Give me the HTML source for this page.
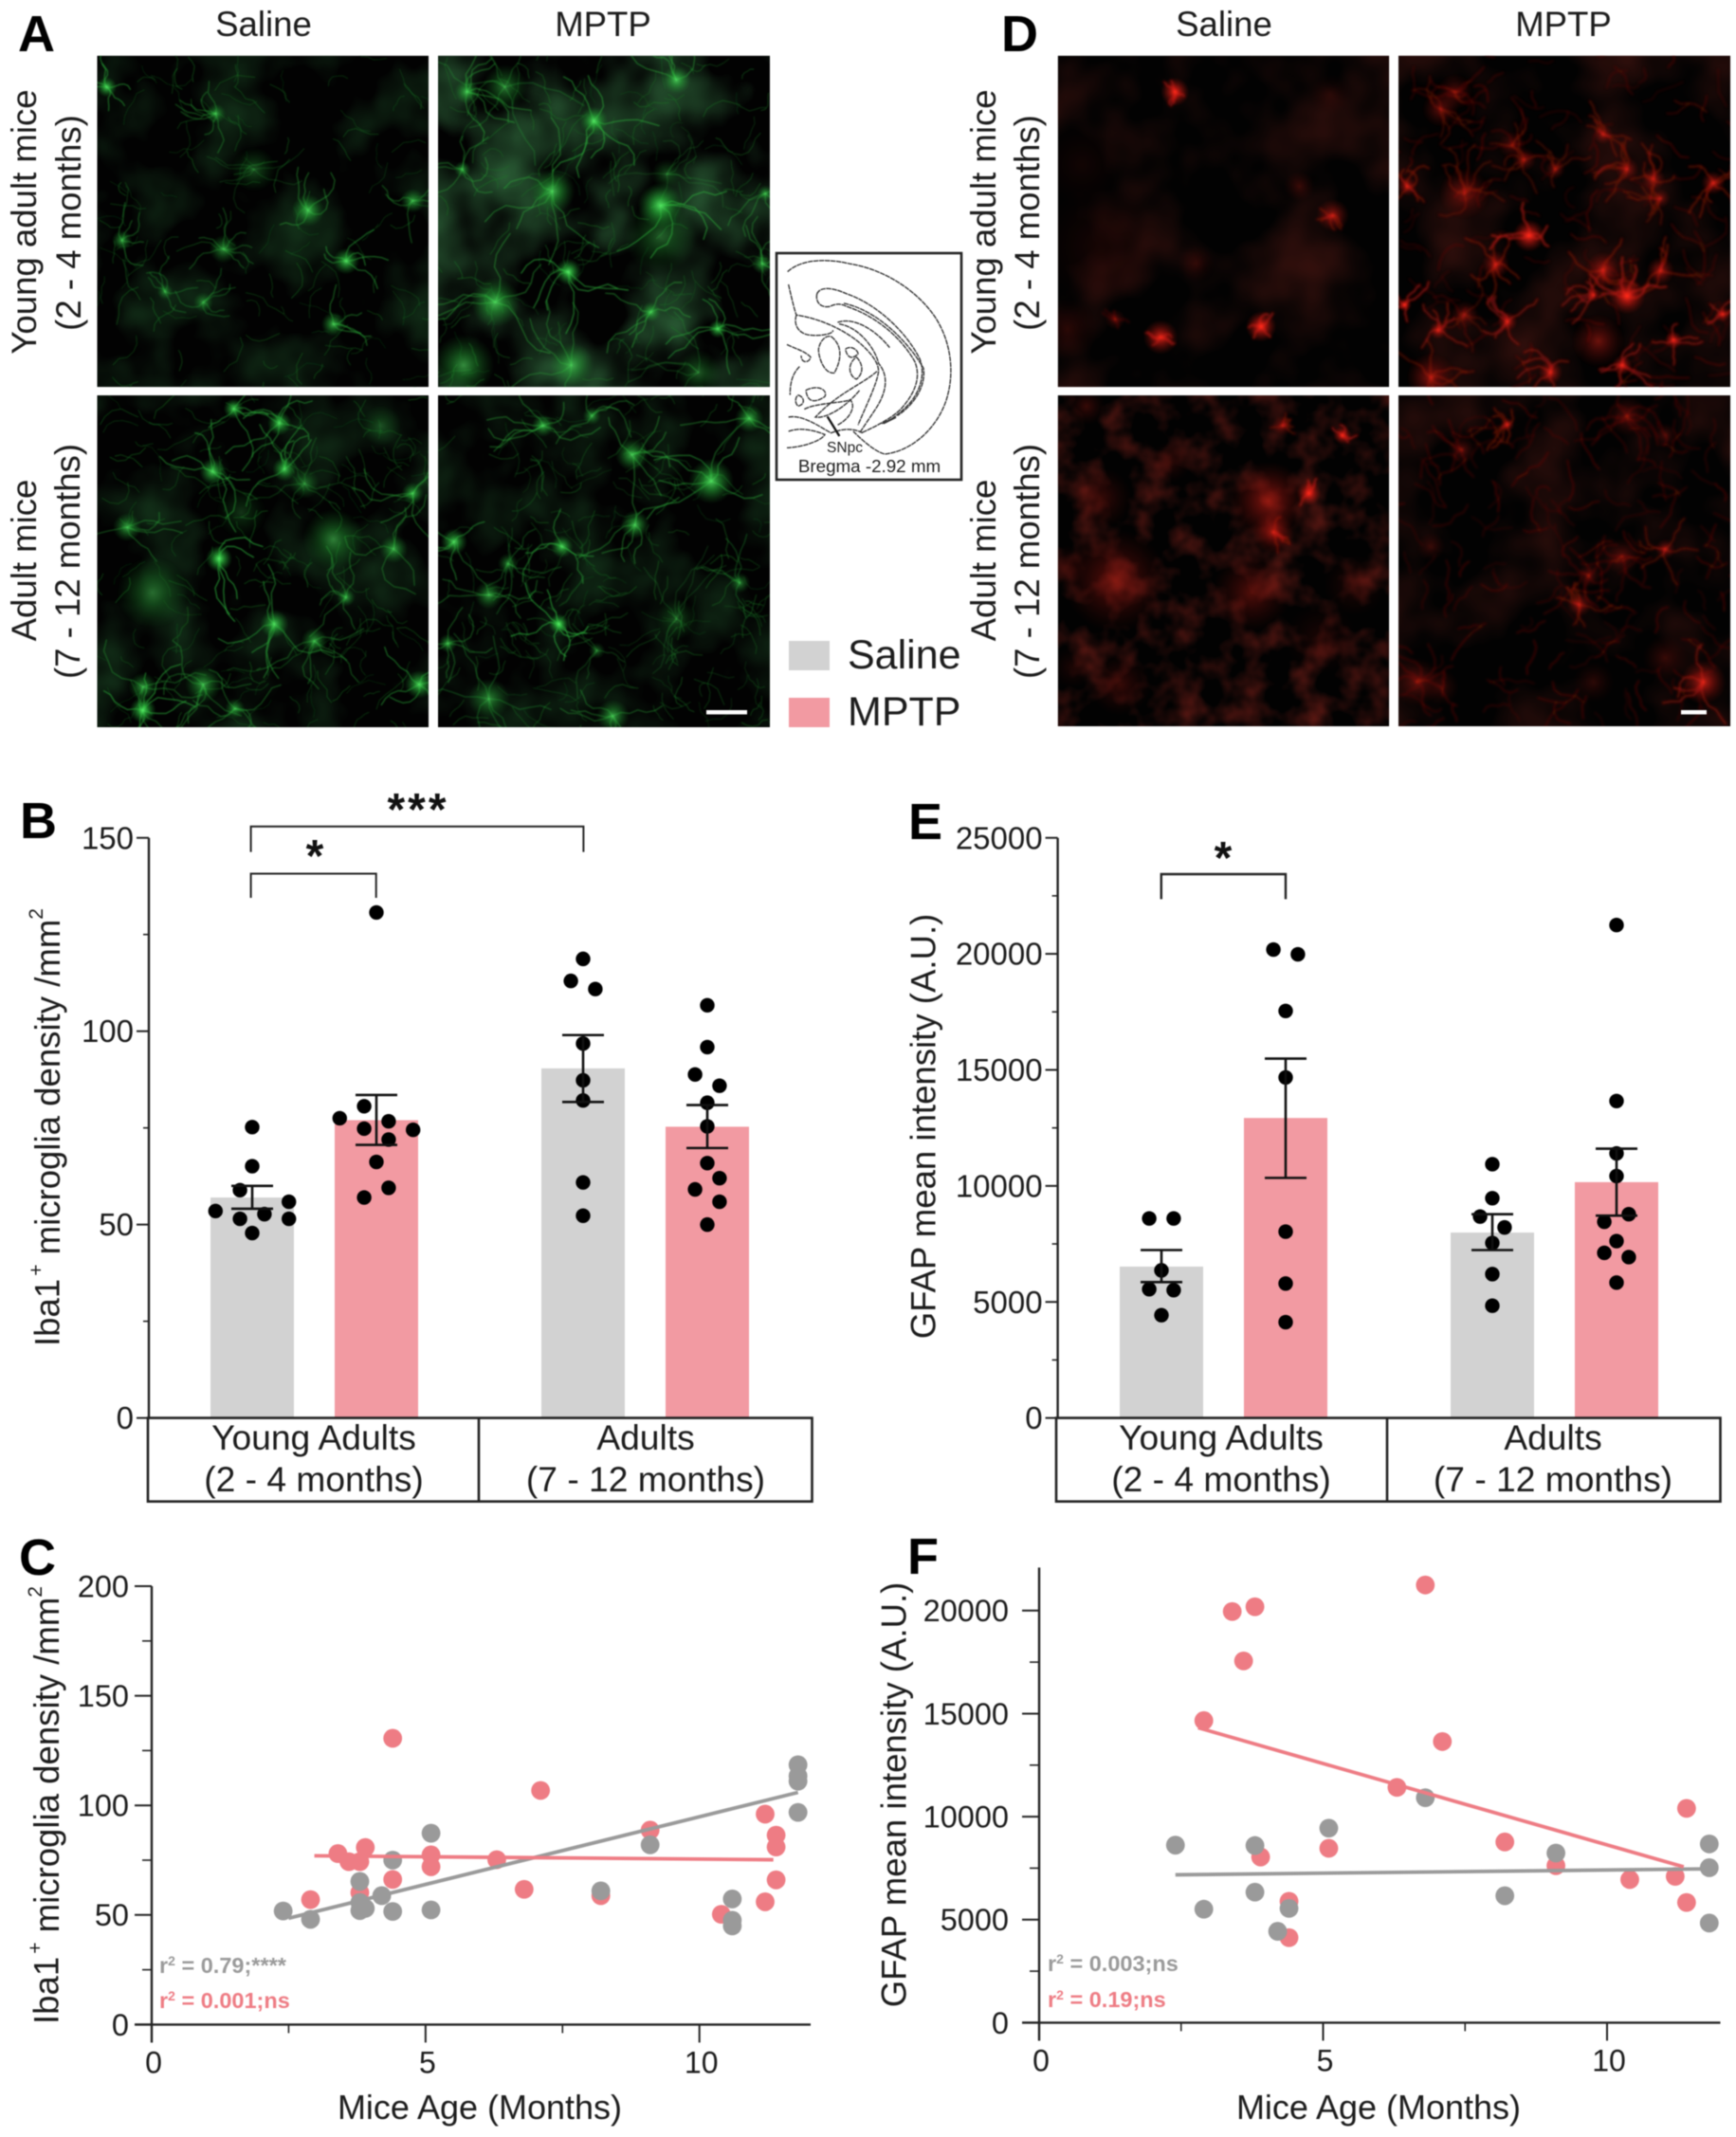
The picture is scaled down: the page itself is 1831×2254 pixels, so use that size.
<!DOCTYPE html>
<html lang="en">
<head>
<meta charset="utf-8">
<title>Microglia and astrocyte density by age and MPTP treatment</title>
<style>
html,body{margin:0;padding:0;background:#fff;}
#figure{display:block;width:1831px;height:2254px;filter:blur(0.6px);font-family:"Liberation Sans",sans-serif;fill:#1c1c1c;}
.t36{font-size:36.6px;}
.t37{font-size:37.2px;text-anchor:middle;}
.letter{font-size:54px;font-weight:bold;fill:#000;}
.star{font-size:48px;font-weight:bold;text-anchor:middle;fill:#111;}
.rval{font-size:23.5px;font-weight:bold;}
</style>
</head>
<body>
<svg id="figure" xmlns="http://www.w3.org/2000/svg" width="1831" height="2254" viewBox="0 0 1831 2254">
  <defs>
    <radialGradient id="glowGreen"><stop offset="0" stop-color="#58f068" stop-opacity="1"/><stop offset=".35" stop-color="#2fc040" stop-opacity=".7"/><stop offset="1" stop-color="#1a8028" stop-opacity="0"/></radialGradient>
    <radialGradient id="glowRed"><stop offset="0" stop-color="#ff2a1a" stop-opacity="1"/><stop offset=".35" stop-color="#d81c14" stop-opacity=".65"/><stop offset="1" stop-color="#8a1008" stop-opacity="0"/></radialGradient>
    <filter id="softEdge" x="-10%" y="-10%" width="120%" height="120%"><feGaussianBlur stdDeviation="0.6"/></filter>
    <filter id="softEdgeRed" x="-10%" y="-10%" width="120%" height="120%"><feGaussianBlur stdDeviation="1.3"/></filter>
    <filter id="hazeGreenLow" x="0" y="0" width="100%" height="100%"><feTurbulence type="fractalNoise" baseFrequency="0.014" numOctaves="3" seed="4"/><feColorMatrix values="0 0 0 0 0.02  0 0 0 0 0.14  0 0 0 0 0.035  1.0 0 0 0 -0.45"/></filter>
    <filter id="hazeGreenHigh" x="0" y="0" width="100%" height="100%"><feTurbulence type="fractalNoise" baseFrequency="0.012" numOctaves="3" seed="9"/><feColorMatrix values="0 0 0 0 0.05  0 0 0 0 0.26  0 0 0 0 0.08  1.4 0 0 0 -0.55"/></filter>
    <filter id="hazeRedLow" x="0" y="0" width="100%" height="100%"><feTurbulence type="fractalNoise" baseFrequency="0.012" numOctaves="3" seed="2"/><feColorMatrix values="0 0 0 0 0.16  0 0 0 0 0.015  0 0 0 0 0.01  0.9 0 0 0 -0.38"/></filter>
    <filter id="hazeRedHigh" x="0" y="0" width="100%" height="100%"><feTurbulence type="fractalNoise" baseFrequency="0.03" numOctaves="3" seed="7"/><feColorMatrix values="0 0 0 0 0.22  0 0 0 0 0.015  0 0 0 0 0.01  1.4 0 0 0 -0.6"/></filter>
  </defs>

  <!-- Micrograph layers are appended here -->
  <g id="micrographs"></g>

  <!-- Panel letters -->
  <text class="letter" x="19" y="54">A</text>
  <text class="letter" x="1056" y="54">D</text>
  <text class="letter" x="21" y="884">B</text>
  <text class="letter" x="958" y="885">E</text>
  <text class="letter" x="20" y="1661">C</text>
  <text class="letter" x="957" y="1660">F</text>

  <!-- Column and row titles -->
  <text class="t36" x="278" y="38" text-anchor="middle">Saline</text>
  <text class="t36" x="636" y="38" text-anchor="middle">MPTP</text>
  <text class="t36" x="1291" y="38" text-anchor="middle">Saline</text>
  <text class="t36" x="1649" y="38" text-anchor="middle">MPTP</text>
  <g class="t36" text-anchor="middle">
    <text transform="translate(38,234) rotate(-90)">Young adult mice</text>
    <text transform="translate(85,235) rotate(-90)">(2 - 4 months)</text>
    <text transform="translate(38,591) rotate(-90)">Adult mice</text>
    <text transform="translate(84,592) rotate(-90)">(7 - 12 months)</text>
    <text transform="translate(1050,234) rotate(-90)">Young adult mice</text>
    <text transform="translate(1096,235) rotate(-90)">(2 - 4 months)</text>
    <text transform="translate(1050,591) rotate(-90)">Adult mice</text>
    <text transform="translate(1096,592) rotate(-90)">(7 - 12 months)</text>
  </g>

  <!-- Brain atlas inset -->
  <g>
    <rect x="819" y="267" width="195" height="239" fill="#fff" stroke="#222" stroke-width="2.6"/>
    <g transform="translate(810,255) scale(0.3333)" fill="none" stroke="#333" stroke-width="4.2" stroke-dasharray="16 2">
      <path d="M62,95 C110,50 200,55 260,70 C360,85 470,150 530,240 C575,310 590,400 570,480 C550,570 470,660 370,672 C340,665 300,630 270,600"/>
      <path d="M65,135 C75,180 85,220 90,232 C150,240 230,270 290,320 C330,355 350,385 350,410 C345,450 310,520 285,580"/>
      <path d="M90,232 C80,260 95,290 130,295 C170,300 210,290 205,280"/>
      <path d="M155,165 C165,140 205,145 250,165 C350,200 440,290 480,370 C500,420 480,480 440,520 C410,550 380,570 360,575"/>
      <path d="M155,165 C150,190 165,210 195,205 C215,195 230,195 250,205 C340,235 420,300 465,380 C485,430 465,480 420,530 C390,560 330,590 295,605"/>
      <path d="M240,195 C340,215 440,310 492,400 C500,450 470,510 410,550"/>
      <path d="M220,255 C280,235 350,290 385,335"/>
      <path d="M225,260 C290,270 340,340 350,385 C380,420 380,470 340,530 C320,560 300,590 290,605"/>
      <path d="M200,300 C240,330 230,380 210,415 C180,420 160,370 160,340 C165,310 185,295 200,300"/>
      <path d="M245,340 C265,325 285,345 285,355 C265,375 250,365 245,340"/>
      <path d="M280,365 C300,385 305,415 280,435 C255,425 250,385 280,365"/>
      <path d="M345,410 C300,450 220,480 150,555 C180,560 240,530 290,470"/>
      <path d="M60,325 C90,340 115,345 135,365 C130,385 105,385 105,360"/>
      <path d="M100,395 C75,420 70,450 70,485"/>
      <path d="M120,470 C160,450 190,470 180,490 C150,510 125,510 120,470"/>
      <path d="M95,485 C115,490 120,515 95,520 C85,510 85,495 95,485"/>
      <path d="M115,530 C150,510 240,510 260,500 C280,520 260,560 220,580"/>
      <path d="M65,555 C110,545 170,590 200,605 C240,590 270,590 300,605"/>
      <path d="M65,600 C90,590 130,590 180,610 C170,630 110,650 60,652"/>
      <path d="M365,575 L405,555" stroke-width="6" stroke-dasharray="none"/>
    </g>
    <path d="M188,553 L226,615" transform="translate(810,255) scale(0.3333)" stroke="#111" stroke-width="7" fill="none"/>
    <text x="891" y="477" font-size="15.5" text-anchor="middle">SNpc</text>
    <text x="917" y="498" font-size="18.8" text-anchor="middle">Bregma -2.92 mm</text>
  </g>

  <!-- Legend -->
  <g>
    <rect x="832" y="676" width="43" height="31" fill="#d2d2d2"/>
    <text x="894" y="705" font-size="43">Saline</text>
    <rect x="832" y="736" width="43" height="31" fill="#f29aa2"/>
    <text x="894" y="765" font-size="43">MPTP</text>
  </g>

  <!-- Chart layers -->
  <g id="chartB"></g>
  <g id="chartE"></g>
  <g id="chartC"></g>
  <g id="chartF"></g>

  <!-- Static chart text -->
  <text class="t36" transform="translate(50,1189) rotate(-90)" text-anchor="middle" dominant-baseline="central">Iba1<tspan font-size="21" dx="3" dy="-12">+</tspan><tspan dy="12"> microglia density /mm</tspan><tspan font-size="21" dy="-12">2</tspan></text>
  <text class="t36" transform="translate(974,1188) rotate(-90)" text-anchor="middle" dominant-baseline="central">GFAP mean intensity (A.U.)</text>
  <text class="t36" transform="translate(49,1904) rotate(-90)" text-anchor="middle" dominant-baseline="central">Iba1<tspan font-size="21" dx="3" dy="-12">+</tspan><tspan dy="12"> microglia density /mm</tspan><tspan font-size="21" dy="-12">2</tspan></text>
  <text class="t36" transform="translate(943,1893) rotate(-90)" text-anchor="middle" dominant-baseline="central">GFAP mean intensity (A.U.)</text>

  <text class="t37" x="331" y="1529">Young Adults</text>
  <text class="t37" x="331" y="1573">(2 - 4 months)</text>
  <text class="t37" x="681" y="1529">Adults</text>
  <text class="t37" x="681" y="1573">(7 - 12 months)</text>
  <text class="t37" x="1288" y="1529">Young Adults</text>
  <text class="t37" x="1288" y="1573">(2 - 4 months)</text>
  <text class="t37" x="1638" y="1529">Adults</text>
  <text class="t37" x="1638" y="1573">(7 - 12 months)</text>

  <text class="star" x="441" y="870" letter-spacing="3">***</text>
  <text class="star" x="332" y="919">*</text>
  <text class="star" x="1290" y="921">*</text>
  <path d="M264.6,898.6 V871.7 H615.4 V898.6 M264.6,947 V921.5 H396.7 V947" fill="none" stroke="#222" stroke-width="2"/>
  <path d="M1224.8,948.4 V922 H1356 V948.4" fill="none" stroke="#222" stroke-width="2.4"/>

  <text x="506" y="2235" font-size="36" text-anchor="middle">Mice Age (Months)</text>
  <text x="1454" y="2235" font-size="36" text-anchor="middle">Mice Age (Months)</text>

  <text class="rval" x="168" y="2081" fill="#9a9a9a">r<tspan font-size="14" dy="-8">2</tspan><tspan dy="8"> = 0.79;****</tspan></text>
  <text class="rval" x="168" y="2118" fill="#ee7c84">r<tspan font-size="14" dy="-8">2</tspan><tspan dy="8"> = 0.001;ns</tspan></text>
  <text class="rval" x="1105" y="2079" fill="#9a9a9a">r<tspan font-size="14" dy="-8">2</tspan><tspan dy="8"> = 0.003;ns</tspan></text>
  <text class="rval" x="1105" y="2117" fill="#ee7c84">r<tspan font-size="14" dy="-8">2</tspan><tspan dy="8"> = 0.19;ns</tspan></text>
</svg>

<script>
/* ---------- Panel B data: Iba1+ density ---------- */
const barTreatments = ['Young saline', 'Young MPTP', 'Adult saline', 'Adult MPTP'];
const bTicks = [0, 50, 100, 150];
const bMinorTicks = [25, 75, 125];
const bMeans = [57, 77, 90.4, 75.3];
const bErrorHigh = [60, 83.5, 99, 80.9];
const bErrorLow = [54.1, 70.6, 81.7, 69.8];
const bValues = [
  [75.2, 65.1, 58.9, 53.5, 55.9, 51.5, 52.7, 51.5, 47.8],
  [130.7, 80.6, 77.5, 76.7, 74.8, 74.5, 72, 66.2, 59.5, 57],
  [118.7, 113, 110.9, 96.8, 87.3, 82.1, 60.9, 52.3],
  [106.7, 95.9, 88.8, 85.9, 81.5, 75.4, 65.9, 62, 59.1, 55.9, 50]
];
const bSwarmColumns = [
  [0, 0, -1, -3, 3, -1, 1, 3, 0],
  [0, -1, -3, 1, -1, 3, 1, 0, 1, -1],
  [0, -1, 1, 0, 0, 0, 0, 0],
  [0, 0, -1, 1, 0, 0, 0, 1, -1, 1, 0]
];

/* ---------- Panel E data: GFAP intensity ---------- */
const eTicks = [0, 5000, 10000, 15000, 20000, 25000];
const eMinorTicks = [2500, 7500, 12500, 17500, 22500];
const eMeans = [6524, 12927, 7988, 10163];
const eErrorHigh = [7236, 15488, 8780, 11606];
const eErrorLow = [5854, 10346, 7236, 8720];
const eValues = [
  [8598, 8598, 6362, 5549, 5508, 4431],
  [20183, 19980, 17540, 14675, 8028, 5793, 4126],
  [10935, 9471, 8679, 8211, 7541, 6199, 4837],
  [21240, 13658, 11402, 10427, 8780, 8455, 7622, 7114, 6931, 5833]
];
const eSwarmColumns = [
  [-1, 1, 0, -1, 1, 0],
  [-1, 1, 0, 0, 0, 0, 0],
  [0, 0, -1, 1, 0, 0, 0],
  [0, 0, 0, 0, 1, -1, 0, -1, 1, 0]
];

/* ---------- Panel C data: Iba1+ density against age ---------- */
const cYTicks = [0, 50, 100, 150, 200];
const cYMinorTicks = [25, 75, 125, 175];
const cXTicks = [0, 5, 10];
const cXMinorTicks = [2.5, 7.5];
const cSalineAge = [2.4, 2.9, 3.8, 3.8, 3.8, 3.9, 4.2, 4.4, 4.4, 5.1, 5.1, 8.2, 9.1, 10.6, 10.6, 10.6, 11.8, 11.8, 11.8, 11.8];
const cSalineDensity = [51.8, 48, 65.3, 55.7, 52, 53, 58.8, 75, 51.6, 87.3, 52.3, 61, 82, 57.3, 47.6, 45, 118.5, 113.4, 111, 96.8];
const cMptpAge = [2.9, 3.4, 3.6, 3.8, 3.8, 3.9, 4.4, 4.4, 5.1, 5.1, 6.3, 6.8, 7.1, 8.2, 9.1, 10.4, 11.2, 11.2, 11.4, 11.4, 11.4];
const cMptpDensity = [57, 78, 74.3, 74.3, 60.2, 80.8, 130.6, 66.2, 77.4, 72, 75.2, 61.7, 106.8, 58.8, 88.7, 50.3, 96, 56, 86.4, 81, 66];
const cSalineTrendAge = [2.5, 11.8];
const cSalineTrendValue = [48.5, 105.9];
const cMptpTrendAge = [2.97, 11.35];
const cMptpTrendValue = [77, 75.2];

/* ---------- Panel F data: GFAP intensity against age ---------- */
const fYTicks = [0, 5000, 10000, 15000, 20000];
const fYMinorTicks = [2500, 7500, 12500, 17500];
const fXTicks = [0, 5, 10];
const fXMinorTicks = [2.5, 7.5];
const fSalineAge = [2.4, 2.9, 3.8, 3.8, 4.2, 4.4, 5.1, 6.8, 8.2, 9.1, 11.8, 11.8, 11.8];
const fSalineIntensity = [8616, 5508, 8597, 6333, 4433, 5546, 9441, 10919, 6160, 8233, 8674, 7522, 4836];
const fMptpAge = [2.9, 3.4, 3.6, 3.8, 3.9, 4.4, 4.4, 5.1, 6.3, 6.8, 7.1, 8.2, 9.1, 10.4, 11.2, 11.4, 11.4];
const fMptpIntensity = [14661, 19958, 17559, 20188, 8041, 5891, 4126, 8463, 11418, 21243, 13644, 8770, 7618, 6947, 7100, 10401, 5834];
const fSalineTrendAge = [2.4, 11.8];
const fSalineTrendValue = [7177, 7465];
const fMptpTrendAge = [2.8, 11.35];
const fMptpTrendValue = [14316, 7561];

/* ---------- Helpers ---------- */
const SVG_NS = 'http://www.w3.org/2000/svg';
const INK = '#222222';
const BAR_FILLS = ['#d2d2d2', '#f29aa2', '#d2d2d2', '#f29aa2'];
const SALINE_DOT = '#9a9a9a';
const MPTP_DOT = '#ee7c84';

function make(tag, attrs, parent) {
  const el = document.createElementNS(SVG_NS, tag);
  for (const key in attrs) el.setAttribute(key, attrs[key]);
  parent.appendChild(el);
  return el;
}
function linear(d0, d1, r0, r1) {
  return function (v) { return r0 + (v - d0) * (r1 - r0) / (d1 - d0); };
}
function drawYAxis(root, scale, x, topPx, bottomPx, ticks, minors, majorLen, minorLen, labelGap, fontSize) {
  const line = make('line', { x1: x, x2: x, y1: topPx, y2: bottomPx, stroke: INK, 'stroke-width': 2.4 }, root);
  
  
  ticks.forEach(function (t) {
    const tick = make('line', { x1: x - majorLen, x2: x, y1: scale(t), y2: scale(t), stroke: INK, 'stroke-width': 2 }, root);
    
    
    const label = make('text', { x: x - majorLen - labelGap, y: scale(t) + fontSize * 0.35, 'text-anchor': 'end', 'font-size': fontSize }, root);
    
    
    label.textContent = String(t);
  });
  minors.forEach(function (t) {
    const tick = make('line', { x1: x - minorLen, x2: x, y1: scale(t), y2: scale(t), stroke: INK, 'stroke-width': 1.6 }, root);
    
    
  });
}

/* ---------- Bar chart ---------- */
function drawBarChart(rootId, frame, means, errHigh, errLow, values, columns, ticks, minors) {
  const root = document.getElementById(rootId);
  const y = linear(0, ticks[ticks.length - 1], frame.zero, frame.top);
  const barX = function (i) { return frame.firstBar + i * 131 + (i >= 2 ? 87 : 0); };
  means.forEach(function (m, i) {
    const bar = make('rect', { x: barX(i) - 44, y: y(m), width: 88, height: frame.zero - y(m), fill: BAR_FILLS[i] }, root);
    
    
    bar.setAttribute('aria-label', barTreatments[i]);
  });
  values.forEach(function (group, i) {
    group.forEach(function (v, j) {
      const dot = make('circle', { cx: barX(i) + columns[i][j] * 12.9, cy: y(v), r: 7.7, fill: '#000' }, root);
      
      
    });
  });
  means.forEach(function (m, i) {
    const d = 'M' + barX(i) + ',' + y(errLow[i]) + ' V' + y(errHigh[i]) +
      ' M' + (barX(i) - 22) + ',' + y(errHigh[i]) + ' H' + (barX(i) + 22) +
      ' M' + (barX(i) - 22) + ',' + y(errLow[i]) + ' H' + (barX(i) + 22);
    const err = make('path', { d: d, stroke: '#111', 'stroke-width': 2.6, fill: 'none' }, root);
    
    
  });
  drawYAxis(root, y, frame.axisX, frame.top, frame.zero, ticks, minors, 13, 6, 3, 33);
  const box = make('path', {
    d: 'M' + frame.boxLeft + ',' + frame.zero + ' H' + frame.boxRight + ' V' + frame.boxBottom + ' H' + frame.boxLeft + ' Z M' + frame.boxMid + ',' + frame.zero + ' V' + frame.boxBottom,
    fill: 'none', stroke: INK, 'stroke-width': 2.6
  }, root);
  
  
}
drawBarChart('chartB', { zero: 1495.6, top: 883.7, firstBar: 266, axisX: 157, boxLeft: 156, boxMid: 505, boxRight: 856.5, boxBottom: 1583.7 },
  bMeans, bErrorHigh, bErrorLow, bValues, bSwarmColumns, bTicks, bMinorTicks);
drawBarChart('chartE', { zero: 1495.6, top: 883.7, firstBar: 1225, axisX: 1115.6, boxLeft: 1114, boxMid: 1463, boxRight: 1814.5, boxBottom: 1583.7 },
  eMeans, eErrorHigh, eErrorLow, eValues, eSwarmColumns, eTicks, eMinorTicks);

/* ---------- Scatter chart ---------- */
function drawScatter(rootId, frame, series) {
  const root = document.getElementById(rootId);
  const x = linear(0, 10, frame.x0, frame.x10);
  const y = linear(0, frame.refValue, frame.zero, frame.refPx);
  series.mptpAge.forEach(function (a, i) {
    const dot = make('circle', { cx: x(a), cy: y(series.mptpValue[i]), r: 9.9, fill: MPTP_DOT }, root);
    
    
  });
  series.salineAge.forEach(function (a, i) {
    const dot = make('circle', { cx: x(a), cy: y(series.salineValue[i]), r: 9.9, fill: SALINE_DOT }, root);
    
    
  });
  const salineLine = make('line', {
    x1: x(series.salineTrendAge[0]), y1: y(series.salineTrendValue[0]),
    x2: x(series.salineTrendAge[1]), y2: y(series.salineTrendValue[1]),
    stroke: SALINE_DOT, 'stroke-width': 3.8
  }, root);
  
  
  const mptpLine = make('line', {
    x1: x(series.mptpTrendAge[0]), y1: y(series.mptpTrendValue[0]),
    x2: x(series.mptpTrendAge[1]), y2: y(series.mptpTrendValue[1]),
    stroke: MPTP_DOT, 'stroke-width': 3.8
  }, root);
  
  

  drawYAxis(root, y, frame.x0, frame.axisTop, frame.zero + 19, series.yTicks, series.yMinor, 18, 10, frame.labelGap, 32.5);
  const axisX = make('line', { x1: frame.x0 - 18, x2: frame.xEnd, y1: frame.zero, y2: frame.zero, stroke: INK, 'stroke-width': 2.4 }, root);
  
  
  series.xTicks.forEach(function (t) {
    const tick = make('line', { x1: x(t), x2: x(t), y1: frame.zero, y2: frame.zero + 19, stroke: INK, 'stroke-width': 2 }, root);
    
    
    const label = make('text', { x: x(t) + 2, y: frame.zero + 51, 'text-anchor': 'middle', 'font-size': 32 }, root);
    
    
    label.textContent = String(t);
  });
  series.xMinor.forEach(function (t) {
    const tick = make('line', { x1: x(t), x2: x(t), y1: frame.zero, y2: frame.zero + 9, stroke: INK, 'stroke-width': 1.6 }, root);
    
    
  });
}
drawScatter('chartC', { x0: 160, x10: 737.7, xEnd: 855, zero: 2135.4, refValue: 200, refPx: 1673, axisTop: 1673, labelGap: 6 }, {
  salineAge: cSalineAge, salineValue: cSalineDensity, mptpAge: cMptpAge, mptpValue: cMptpDensity,
  salineTrendAge: cSalineTrendAge, salineTrendValue: cSalineTrendValue, mptpTrendAge: cMptpTrendAge, mptpTrendValue: cMptpTrendValue,
  yTicks: cYTicks, yMinor: cYMinorTicks, xTicks: cXTicks, xMinor: cXMinorTicks
});
drawScatter('chartF', { x0: 1096, x10: 1695, xEnd: 1814.5, zero: 2133.4, refValue: 20000, refPx: 1698.8, axisTop: 1653.4, labelGap: 14 }, {
  salineAge: fSalineAge, salineValue: fSalineIntensity, mptpAge: fMptpAge, mptpValue: fMptpIntensity,
  salineTrendAge: fSalineTrendAge, salineTrendValue: fSalineTrendValue, mptpTrendAge: fMptpTrendAge, mptpTrendValue: fMptpTrendValue,
  yTicks: fYTicks, yMinor: fYMinorTicks, xTicks: fXTicks, xMinor: fXMinorTicks
});

/* ---------- Micrograph impressions (not chart data) ---------- */
const greenScaleX = 1 / 1.493;
const redScaleX = 1 / 1.982;
const rowScaleY = 1 / 1.96;
const greenPanels = [
  { name: 'micrograph-iba1-young-saline', x: 102.5, y: 58.7, w: 349.5, h: 349.5, haze: 'hazeGreenLow', hairs: 120, procScale: 1, cells: [[168,180,10,.8],[340,235,10,.6],[400,350,22,.3],[485,435,16,.7],[650,415,12,.6],[192,497,10,.6],[352,515,14,.55],[545,540,13,.8],[260,603,8,.5],[320,625,10,.5],[525,670,12,.7]] },
  { name: 'micrograph-iba1-young-mptp', x: 462, y: 58.7, w: 350, h: 349.5, haze: 'hazeGreenHigh', hairs: 170, procScale: 1.5, cells: [[735,190,12,.7],[795,180,22,.45],[1065,165,14,.7],[935,250,14,.85],[728,350,8,.6],[870,395,22,.7],[1040,425,22,.9],[1040,490,35,.35],[895,562,13,.9],[780,625,24,.7],[1025,645,10,.7],[1130,680,9,.8],[730,755,30,.55],[900,755,22,.6],[1205,400,8,.6],[1200,545,10,.6],[1100,770,22,.35],[1050,360,15,.3]] },
  { name: 'micrograph-iba1-adult-saline', x: 102.5, y: 417, w: 349.5, h: 350, haze: 'hazeGreenLow', hairs: 190, procScale: 1.5, cells: [[368,845,10,.8],[440,875,12,.8],[335,975,13,.8],[448,970,12,.8],[650,1020,11,.7],[480,1000,15,.4],[200,1090,14,.6],[345,1155,13,1],[525,1115,30,.5],[620,1135,14,.6],[240,1225,35,.4],[545,1235,9,.6],[432,1290,14,.8],[495,1325,13,.6],[320,1415,18,.6],[225,1420,14,.6],[225,1468,13,.9],[370,1465,10,.6],[660,1415,14,.8],[600,880,20,.25],[380,1060,25,.2]] },
  { name: 'micrograph-iba1-adult-mptp', x: 462, y: 417, w: 350, h: 350, haze: 'hazeGreenLow', hairs: 220, procScale: 1.5, cells: [[855,880,11,.7],[932,860,9,.6],[1180,865,14,.7],[995,940,16,.7],[1120,995,22,.8],[715,1120,13,.8],[885,1130,11,.8],[1000,1085,14,.7],[770,1230,14,.6],[800,1165,10,.5],[880,1290,10,1],[1165,1205,10,.5],[1065,1280,20,.3],[705,1330,9,.6],[770,1445,20,.5],[965,1480,16,.6],[940,1345,8,.4]] }
];
const redPanels = [
  { name: 'micrograph-gfap-young-saline', x: 1115.7, y: 58.7, w: 349.5, h: 349.5, haze: 'hazeRedLow', hairs: 0, procScale: 0.4, cells: [[395,190,14,.9],[725,445,16,.55],[575,675,15,1],[365,697,17,.8],[270,660,10,.3],[440,545,18,.15],[240,510,60,.08],[200,340,40,.06],[655,385,15,.2],[720,195,20,.1],[170,680,30,.15]] },
  { name: 'micrograph-gfap-young-mptp', x: 1475, y: 58.7, w: 350, h: 349.5, haze: 'hazeRedLow', hairs: 120, procScale: 0.9, cells: [[1135,487,16,1],[1340,612,18,.95],[1290,278,10,.5],[1125,330,12,.4],[1190,350,10,.4],[1340,350,12,.5],[1395,370,12,.5],[1520,378,12,.6],[880,385,10,.6],[1000,400,25,.4],[1065,547,14,.6],[1290,558,18,.6],[1270,610,7,.7],[1410,560,14,.6],[1090,665,10,.7],[945,683,9,.7],[1280,705,26,.4],[1437,703,9,.8],[1330,755,10,.8],[1180,770,12,.7],[930,780,24,.5],[875,630,7,.9],[1000,650,14,.35],[1540,650,8,.7],[1410,410,10,.4],[950,225,18,.35],[1100,300,14,.3],[980,190,18,.3]] },
  { name: 'micrograph-gfap-adult-saline', x: 1115.7, y: 417, w: 349.5, h: 349, haze: 'hazeRedHigh', hairs: 0, procScale: 0.4, cells: [[745,900,9,.9],[620,880,10,.5],[675,1020,12,.95],[590,1035,38,.5],[600,1100,20,.6],[270,1200,50,.35],[555,1225,38,.3],[240,1030,30,.2],[385,955,20,.15],[280,1415,30,.2],[770,1210,30,.12],[210,840,18,.2],[170,1170,20,.15],[180,1380,20,.1],[700,1320,35,.1]] },
  { name: 'micrograph-gfap-adult-mptp', x: 1475, y: 417, w: 350, h: 349, haze: 'hazeRedLow', hairs: 170, procScale: 0.9, cells: [[1090,878,7,.6],[995,930,14,.3],[1420,1135,10,.5],[1240,1250,12,.5],[1500,1410,22,.7],[1340,860,20,.3],[1420,900,12,.25],[900,1410,24,.3],[930,1130,14,.2],[1330,1150,18,.3],[1260,1190,12,.3],[1420,1360,22,.2],[950,1420,18,.2],[1270,1410,20,.15]] }
];

function seededRandom(seed) {
  let s = seed >>> 0;
  return function () {
    s = (s + 0x6D2B79F5) >>> 0;
    let t = s;
    t = Math.imul(t ^ (t >>> 15), t | 1);
    t ^= t + Math.imul(t ^ (t >>> 7), t | 61);
    return ((t ^ (t >>> 14)) >>> 0) / 4294967296;
  };
}
function wiggle(rng, x0, y0, len, ang, steps) {
  let x = x0, y = y0;
  let d = 'M' + x.toFixed(1) + ' ' + y.toFixed(1);
  for (let i = 0; i < steps; i++) {
    ang += (rng() - 0.5) * 1.5;
    x += Math.cos(ang) * len / steps;
    y += Math.sin(ang) * len / steps;
    d += ' L' + x.toFixed(1) + ' ' + y.toFixed(1);
  }
  return d;
}
function drawMicrograph(host, panel, index, scaleX, originX, glow, procColor, hairColor, procWidth, blurId, scaleBar) {
  const rng = seededRandom(1234 + index * 97);
  const group = make('g', {}, host);
  
  
  const clipId = 'clip-' + panel.name;
  const clip = make('clipPath', { id: clipId }, group);
  make('rect', { x: panel.x, y: panel.y, width: panel.w, height: panel.h }, clip);
  const inner = make('g', { 'clip-path': 'url(#' + clipId + ')' }, group);
  make('rect', { x: panel.x, y: panel.y, width: panel.w, height: panel.h, fill: '#020202' }, inner);
  make('rect', { x: panel.x, y: panel.y, width: panel.w, height: panel.h, fill: '#fff', filter: 'url(#' + panel.haze + ')' }, inner);
  const lines = make('g', { filter: 'url(#' + blurId + ')', fill: 'none', 'stroke-linecap': 'round' }, inner);
  for (let i = 0; i < panel.hairs; i++) {
    make('path', {
      d: wiggle(rng, panel.x + rng() * panel.w, panel.y + rng() * panel.h, 18 + rng() * 32, rng() * 6.28, 5),
      stroke: hairColor, 'stroke-width': procWidth * 0.75, opacity: 0.25 + rng() * 0.35
    }, lines);
  }
  panel.cells.forEach(function (c) {
    const cx = originX + c[0] * scaleX;
    const cy = c[1] * rowScaleY;
    const size = c[2] * 0.62;
    const strength = c[3];
    if (c[2] < 26 && strength > 0.25) {
      const n = 5 + Math.floor(rng() * 3);
      for (let k = 0; k < n; k++) {
        make('path', {
          d: wiggle(rng, cx, cy, (size * 2 + 10 + rng() * 24) * panel.procScale, rng() * 6.28, 6),
          stroke: procColor, 'stroke-width': procWidth, opacity: strength * 0.7
        }, lines);
      }
    }
    const body = make('circle', { cx: cx, cy: cy, r: size * 1.75, fill: 'url(#' + glow + ')', opacity: Math.min(1, strength * 1.05) }, inner);
    
    
  });
  if (scaleBar) {
    const bar = make('rect', { x: scaleBar[0], y: scaleBar[1], width: scaleBar[2], height: 4.5, fill: '#fff' }, group);
    
    
  }
}
const microHost = document.getElementById('micrographs');
greenPanels.forEach(function (p, i) {
  drawMicrograph(microHost, p, i, greenScaleX, 0, 'glowGreen', '#2fb83e', '#1c7a28', 1.2, 'softEdge', i === 3 ? [745, 749, 43] : null);
});
redPanels.forEach(function (p, i) {
  drawMicrograph(microHost, p, i + 4, redScaleX, 1040, 'glowRed', '#b8180f', '#6a100a', 2.4, 'softEdgeRed', i === 3 ? [1773, 749, 27] : null);
});
</script>
</body>
</html>
